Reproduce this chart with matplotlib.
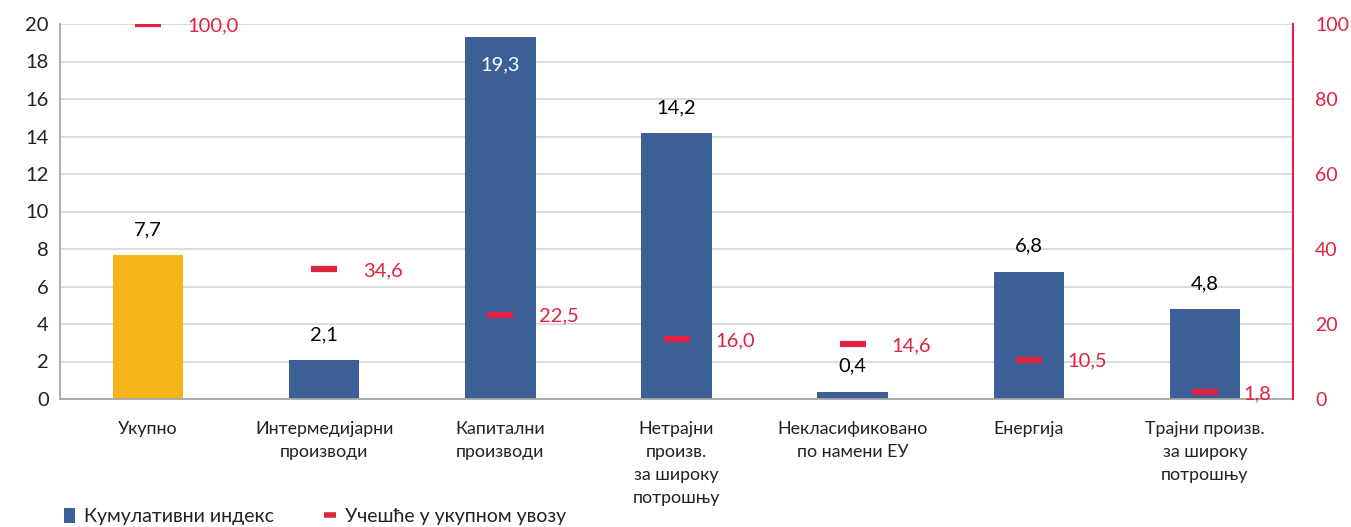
import matplotlib
matplotlib.use("Agg")
import matplotlib.pyplot as plt
from matplotlib.lines import Line2D
from matplotlib.patches import Patch

categories = ["Укупно", "Интермедијарни\nпроизводи", "Капитални\nпроизводи",
              "Нетрајни\nпроизв.\nза широку\nпотрошњу", "Некласификовано\nпо намени ЕУ",
              "Енергија", "Трајни произв.\nза широку\nпотрошњу"]
index_values = [7.7, 2.1, 19.3, 14.2, 0.4, 6.8, 4.8]
share_values = [100.0, 34.6, 22.5, 16.0, 14.6, 10.5, 1.8]
left_ticks = list(range(0, 21, 2))
right_ticks = list(range(0, 101, 20))

BLUE = "#3C5F97"
YELLOW = "#F5B418"
RED = "#E0213F"
GRID = "#D9D9D9"

plt.rcParams['font.family'] = ['Lato', 'DejaVu Sans']

fig = plt.figure(figsize=(13.51, 5.27), dpi=100)
ax = fig.add_axes([60/1351, 1-399/527, (1293-60)/1351, (399-24)/527])
ax2 = ax.twinx()

x = list(range(len(categories)))
colors = [YELLOW] + [BLUE] * (len(categories) - 1)
ax.bar(x, index_values, width=0.4, color=colors, zorder=2)
ax.set_xlim(-0.5, len(categories) - 0.5)
ax.set_ylim(0, 20)
ax.set_yticks(left_ticks)
ax.set_yticklabels([str(t) for t in left_ticks], fontsize=14.5, color="#222222")
ax.yaxis.grid(True, color=GRID, linewidth=1.3, zorder=0)
ax.set_axisbelow(True)
ax.set_xticks(x)
ax.set_xticklabels(categories, fontsize=12.8, color="#222222", linespacing=1.52, va="top")
ax.tick_params(axis="x", length=0, pad=16)
ax.tick_params(axis="y", length=0, pad=8)
for s in ["top", "right"]:
    ax.spines[s].set_visible(False)
ax.spines["left"].set_color("#A6A6A6")
ax.spines["bottom"].set_color("#A6A6A6")
ax.spines["left"].set_linewidth(1.3)
ax.spines["bottom"].set_linewidth(1.3)

for i, v in enumerate(index_values):
    lab = f"{v:.1f}".replace(".", ",")
    if v > 18:
        ax.text(i, v - 1.5, lab, ha="center", va="center", color="white", fontsize=14.5)
    else:
        ax.annotate(lab, (i, v), xytext=(0, 12), textcoords="offset points",
                    ha="center", va="bottom", fontsize=14.5, color="black")

ax2.set_ylim(0, 100)
ax2.set_yticks(right_ticks)
ax2.set_yticklabels([str(t) for t in right_ticks], fontsize=14, color=RED)
ax2.tick_params(axis="y", length=0, pad=16)
for s in ["top", "left", "bottom"]:
    ax2.spines[s].set_visible(False)
ax2.spines["right"].set_color(RED)
ax2.spines["right"].set_linewidth(1.5)
ax2.plot(x, share_values, linestyle="none", marker="_", markersize=19,
         markeredgewidth=4.5, color=RED, zorder=3)
for i, v in enumerate(share_values):
    lab = f"{v:.1f}".replace(".", ",")
    ax2.annotate(lab, (i, v), xytext=(28, -1), textcoords="offset points",
                 ha="left", va="center", fontsize=14.5, color=RED)

handles = [Patch(facecolor=BLUE, edgecolor="none"),
           Line2D([0], [0], color=RED, linestyle="none", marker="_",
                  markersize=9, markeredgewidth=4)]
fig.legend(handles, ["Кумулативни индекс", "Учешће у укупном увозу"],
           loc="lower left", bbox_to_anchor=(46/1351, -0.03), ncol=2, frameon=False,
           fontsize=14, handlelength=0.6, handleheight=0.8, handletextpad=0.45,
           columnspacing=2.6, labelcolor="#222222")

fig.savefig("out.png", dpi=100)
